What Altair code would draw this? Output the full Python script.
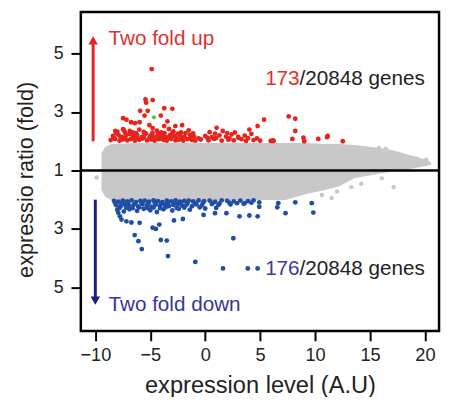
import altair as alt
import pandas as pd

# ---------------- data ----------------
# y unit: signed distance from ratio 1 (up > 0, down < 0); axis labels show 1 + |y|
gray_x = [-9.44, -9.08, -8.54, -6.12, -0.75, 3.72, 7.31, 9.10, 10.89, 12.23, 13.57,
          14.92, 16.44, 17.60, 18.50, 19.40, 20.29, 20.56]
gray_top = [0.61, 0.81, 0.91, 0.94, 0.94, 0.94, 0.94, 0.94, 0.91, 0.91, 0.875,
            0.81, 0.74, 0.64, 0.54, 0.44, 0.34, 0.27]
gray_bottom = [-0.67, -0.91, -1.01, -1.04, -1.04, -1.01, -1.01, -0.81, -0.67, -0.54, -0.27,
               -0.17, -0.07, 0.0, 0.03, 0.10, 0.17, 0.20]

gray_pts_x = [20.11, 19.22, 15.81, 16.44, 17.15, 16.08, 13.30, 11.51, 10.62, -9.88, 12.0, 14.2]
gray_pts_y = [0.37, 0.40, 0.77, 0.74, -0.57, -0.27, -0.57, -0.94, -0.84, -0.24, -0.72, -0.45]

# two fold up genes (expression level, fold)
up_x = [-4.87, -5.43, -5.38, -4.78, -5.92, -5.23, -3.73, -2.99, -7.47, -7.17, -5.52, -4.04,
        -3.44, -6.75, -6.39, -5.97, -5.08, -3.73, -2.72, -2.10, -8.18, -7.47, -6.87, -4.78,
        5.36, 7.60, 8.20, 8.20, 7.93, 8.94, 9.01, 6.17, 4.77, 4.02, 3.72, 1.04, 10.29, 11.09,
        11.15, 12.52, 5.96, 6.23,
        -8.6, -8.2, -7.8, -7.5, -7.1, -6.8, -6.4, -6.0, -5.7, -5.3, -4.9, -4.6, -4.2, -3.8,
        -3.5, -3.1, -2.7, -2.4, -2.0, -1.6, -1.2, -0.9, -0.4, 0.3, 0.8, 1.5, 2.1, 2.6, 3.3,
        4.4, 5.0,
        -8.4, -7.9, -7.6, -7.2, -6.9, -6.5, -6.2, -5.8, -5.5, -5.0, -4.7, -4.3, -3.9, -3.6,
        -3.2, -2.8, -2.3, -1.9, -1.4, -1.0, 0.0, 0.6, 1.3, 1.9, 2.4, 3.0, 3.6, 4.2,
        -8.0, -7.4, -6.6, -6.0, -5.6, -4.4, -4.0, -3.3, -2.9, -2.2, -1.5, 0.4, 1.6, 2.7,
        -8.3, -7.7, -7.3, -6.6, -6.2, -5.6, -5.1, -4.5, -4.1, -3.4, -2.6, -2.1, -1.3, -0.6,
        0.2, 1.0, 2.2, 3.0, 3.9, 4.7,
        -8.1, -7.3, -6.8, -6.3, -5.4, -4.8, -4.2, -3.7, -3.0, -2.5, -1.8, -1.1, 0.9, 2.0]
up_fold = [4.47, 3.43, 3.32, 3.41, 3.04, 3.04, 3.13, 3.11, 2.79, 2.74, 2.88, 2.88,
           2.68, 2.65, 2.62, 2.65, 2.55, 2.52, 2.52, 2.55, 2.35, 2.41, 2.35, 2.45,
           2.74, 2.85, 2.77, 2.35, 2.08, 2.12, 2.00, 2.03, 2.52, 2.40, 2.01, 2.46, 2.08, 2.14,
           2.18, 2.00, 2.01, 2.01,
           2.04, 2.08, 2.02, 2.06, 2.03, 2.07, 2.02, 2.05, 2.09, 2.03, 2.06, 2.02, 2.07, 2.04,
           2.02, 2.08, 2.03, 2.05, 2.02, 2.07, 2.04, 2.02, 2.06, 2.03, 2.08, 2.02, 2.05, 2.03,
           2.07, 2.04, 2.02,
           2.18, 2.22, 2.15, 2.20, 2.25, 2.17, 2.21, 2.14, 2.24, 2.19, 2.16, 2.23, 2.18, 2.14,
           2.21, 2.17, 2.20, 2.15, 2.22, 2.16, 2.18, 2.14, 2.20, 2.16, 2.23, 2.15, 2.19, 2.25,
           2.33, 2.38, 2.30, 2.40, 2.32, 2.36, 2.30, 2.42, 2.34, 2.30, 2.37, 2.31, 2.35, 2.30,
           2.11, 2.13, 2.10, 2.12, 2.11, 2.13, 2.10, 2.12, 2.11, 2.13, 2.10, 2.12, 2.11, 2.10,
           2.12, 2.11, 2.10, 2.12, 2.11, 2.10,
           2.27, 2.29, 2.26, 2.28, 2.27, 2.29, 2.26, 2.28, 2.27, 2.26, 2.28, 2.27, 2.26, 2.28]

# two fold down genes (expression level, fold)
down_x = [-7.91, -7.62, -7.17, -6.72, -5.97, -4.78, -4.49, -4.18, -2.84, -2.03, -6.42, -6.08,
          -5.77, -4.04, -3.50, -3.39, -0.90, 1.62, 3.88, 4.77, 2.56, 7.31, 9.84, 8.20, 9.70,
          6.65, 6.56, 4.92, 4.92, 4.77, 4.02, 3.12, 1.93, 0.89, -0.15, -7.76,
          -8.3, -7.9, -7.5, -7.1, -6.7, -6.3, -5.9, -5.5, -5.1, -4.7, -4.3, -3.9, -3.5, -3.1,
          -2.7, -2.3, -1.9, -1.5, -1.1, -0.6, -0.1, 0.4, 0.9, 1.5, 2.0, 2.6, 3.2, 3.9, 4.4,
          -8.1, -7.7, -7.3, -6.9, -6.5, -6.1, -5.7, -5.3, -4.9, -4.5, -4.1, -3.7, -3.3, -2.9,
          -2.5, -2.1, -1.7, -1.2, -0.8, -0.3, 0.6, 1.2, 2.3, 3.5,
          -8.0, -7.4, -6.9, -6.2, -5.6, -5.0, -4.4, -3.8, -3.0, -2.4, -1.4, 0.0,
          -8.2, -7.6, -7.0, -6.4, -5.8, -5.2, -4.6, -4.0, -3.4, -2.8, -2.2, -1.6, -0.9, -0.2,
          0.7, 1.3, 2.2, 2.9, 3.6, 4.2,
          -7.8, -7.2, -6.6, -6.0, -5.3, -4.7, -4.1, -3.6, -2.6, -1.9, -0.5, 1.0]
down_fold = [2.45, 2.68, 2.74, 2.78, 2.79, 2.96, 3.00, 2.85, 2.71, 2.66, 3.21, 3.42,
             3.69, 3.38, 3.40, 3.93, 4.13, 4.35, 4.35, 4.35, 3.32, 2.46, 2.44, 2.09, 2.12,
             2.12, 2.26, 2.09, 2.24, 2.57, 2.54, 2.57, 2.46, 2.46, 2.52, 2.57,
             2.04, 2.07, 2.03, 2.06, 2.02, 2.08, 2.04, 2.03, 2.07, 2.02, 2.05, 2.08, 2.03, 2.06,
             2.02, 2.07, 2.04, 2.03, 2.06, 2.02, 2.05, 2.03, 2.07, 2.02, 2.04, 2.06, 2.03, 2.05, 2.02,
             2.19, 2.22, 2.16, 2.21, 2.17, 2.23, 2.15, 2.20, 2.24, 2.17, 2.21, 2.16, 2.22, 2.18,
             2.15, 2.20, 2.17, 2.22, 2.16, 2.19, 2.15, 2.18, 2.16, 2.14,
             2.35, 2.40, 2.33, 2.38, 2.31, 2.36, 2.42, 2.33, 2.37, 2.31, 2.34, 2.30,
             2.11, 2.12, 2.10, 2.13, 2.11, 2.12, 2.10, 2.13, 2.11, 2.12, 2.10, 2.11, 2.12, 2.10,
             2.11, 2.13, 2.10, 2.12, 2.11, 2.10,
             2.28, 2.27, 2.29, 2.26, 2.28, 2.27, 2.29, 2.26, 2.28, 2.27, 2.26, 2.28]

green_x = [-4.66]
green_fold = [2.82]

y_ticks = [-4, -2, 0, 2, 4]
x_ticks = [-10, -5, 0, 5, 10, 15, 20]

# arrows (x, start offset, end offset)
up_arrow = [-10.2, 1.0, 4.45]
down_arrow = [-10.0, -1.0, -4.45]

# annotations
notes_x = [-8.8, -8.8]
notes_y = [4.48, -4.6]
count_split_x = 8.59
count_up_y = 3.14
count_down_y = -3.37

# ---------------- tables ----------------
gray_df = pd.DataFrame({"x": gray_x, "top": gray_top, "bottom": gray_bottom})
gray_pts = pd.DataFrame({"x": gray_pts_x, "y": gray_pts_y})
up_df = pd.DataFrame({"x": up_x, "y": [f - 1 for f in up_fold]})
down_df = pd.DataFrame({"x": down_x, "y": [-(f - 1) for f in down_fold]})
green_df = pd.DataFrame({"x": green_x, "y": [f - 1 for f in green_fold]})

XDOM = [-11.32, 21.28]
YDOM = [-5.49, 5.42]
FONT = "Liberation Sans"

xs = alt.Scale(domain=XDOM, nice=False, zero=False)
ys = alt.Scale(domain=YDOM, nice=False, zero=False)

x_axis = alt.Axis(values=x_ticks, title="expression level (A.U)", grid=False,
                  tickSize=10, tickWidth=2, tickColor="black", domain=False,
                  labelPadding=5, titlePadding=10, labelFlush=False,
                  labelFont=FONT, titleFont=FONT, labelFontSize=18.5, titleFontSize=24,
                  labelColor="#222222", titleColor="#222222", titleFontWeight="normal")
y_axis = alt.Axis(values=y_ticks, title="expressio ratio (fold)", grid=False,
                  tickSize=10, tickWidth=2, tickColor="black", domain=False,
                  labelPadding=8, titlePadding=16, titleY=170,
                  labelFont=FONT, titleFont=FONT, labelFontSize=18, titleFontSize=22,
                  labelColor="#222222", titleColor="#222222", titleFontWeight="normal",
                  labelExpr="format(1 + abs(datum.value), 'd')")

cloud = alt.Chart(gray_df).mark_area(color="#c8c8c8", opacity=1).encode(
    x=alt.X("x:Q", scale=xs, axis=x_axis),
    y=alt.Y("top:Q", scale=ys, axis=y_axis),
    y2="bottom:Q",
)
gray_dots = alt.Chart(gray_pts).mark_circle(color="#c8c8c8", size=20, opacity=1).encode(
    x=alt.X("x:Q", scale=xs), y=alt.Y("y:Q", scale=ys))
red_dots = alt.Chart(up_df).mark_circle(color="#e8231b", size=24, opacity=1).encode(
    x=alt.X("x:Q", scale=xs), y=alt.Y("y:Q", scale=ys))
blue_dots = alt.Chart(down_df).mark_circle(color="#1f4ea6", size=24, opacity=1).encode(
    x=alt.X("x:Q", scale=xs), y=alt.Y("y:Q", scale=ys))
green_dot = alt.Chart(green_df).mark_circle(color="#5cc040", size=18, opacity=1).encode(
    x=alt.X("x:Q", scale=xs), y=alt.Y("y:Q", scale=ys))

zero_line = alt.Chart(pd.DataFrame({"y": [0]})).mark_rule(color="black", strokeWidth=2.5).encode(
    y=alt.Y("y:Q", scale=ys))

arrow_df = pd.DataFrame({
    "x": [up_arrow[0], down_arrow[0]],
    "y1": [up_arrow[1], down_arrow[1]],
    "y2": [up_arrow[2], down_arrow[2]],
    "c": ["up", "down"],
})
arrow_colors = alt.Scale(domain=["up", "down"], range=["#e52420", "#1c1c86"])
shafts = alt.Chart(arrow_df).mark_rule(strokeWidth=3).encode(
    x=alt.X("x:Q", scale=xs), y=alt.Y("y1:Q", scale=ys), y2="y2:Q",
    color=alt.Color("c:N", scale=arrow_colors, legend=None))
head_up = alt.Chart(arrow_df[arrow_df.c == "up"]).mark_point(
    shape="triangle-up", filled=True, size=95, opacity=1, color="#e52420").encode(
    x=alt.X("x:Q", scale=xs), y=alt.Y("y2:Q", scale=ys))
head_down = alt.Chart(arrow_df[arrow_df.c == "down"]).mark_point(
    shape="triangle-down", filled=True, size=95, opacity=1, color="#1c1c86").encode(
    x=alt.X("x:Q", scale=xs), y=alt.Y("y2:Q", scale=ys))

def label(text, x, y, color, align):
    return alt.Chart(pd.DataFrame({"x": [x], "y": [y], "t": [text]})).mark_text(
        font=FONT, fontSize=21, color=color, align=align, baseline="middle").encode(
        x=alt.X("x:Q", scale=xs), y=alt.Y("y:Q", scale=ys), text="t:N")

texts = [
    label("Two fold up", notes_x[0], notes_y[0], "#e03030", "left"),
    label("Two fold down", notes_x[1], notes_y[1], "#35359a", "left"),
    label("173", count_split_x, count_up_y, "#e03030", "right"),
    label("/20848 genes", count_split_x, count_up_y, "#222222", "left"),
    label("176", count_split_x, count_down_y, "#3a3a98", "right"),
    label("/20848 genes", count_split_x, count_down_y, "#222222", "left"),
]

chart = alt.layer(cloud, gray_dots, red_dots, green_dot, blue_dots, zero_line,
                  shafts, head_up, head_down, *texts).properties(
    width=364, height=324,
    autosize=alt.AutoSizeParams(type="none"),
    padding={"left": 74, "top": 1, "right": 2, "bottom": 64},
    background="white",
).configure_view(stroke="black", strokeWidth=2.5)

chart.save("out.html", embed_options={"renderer": "svg", "actions": False})
